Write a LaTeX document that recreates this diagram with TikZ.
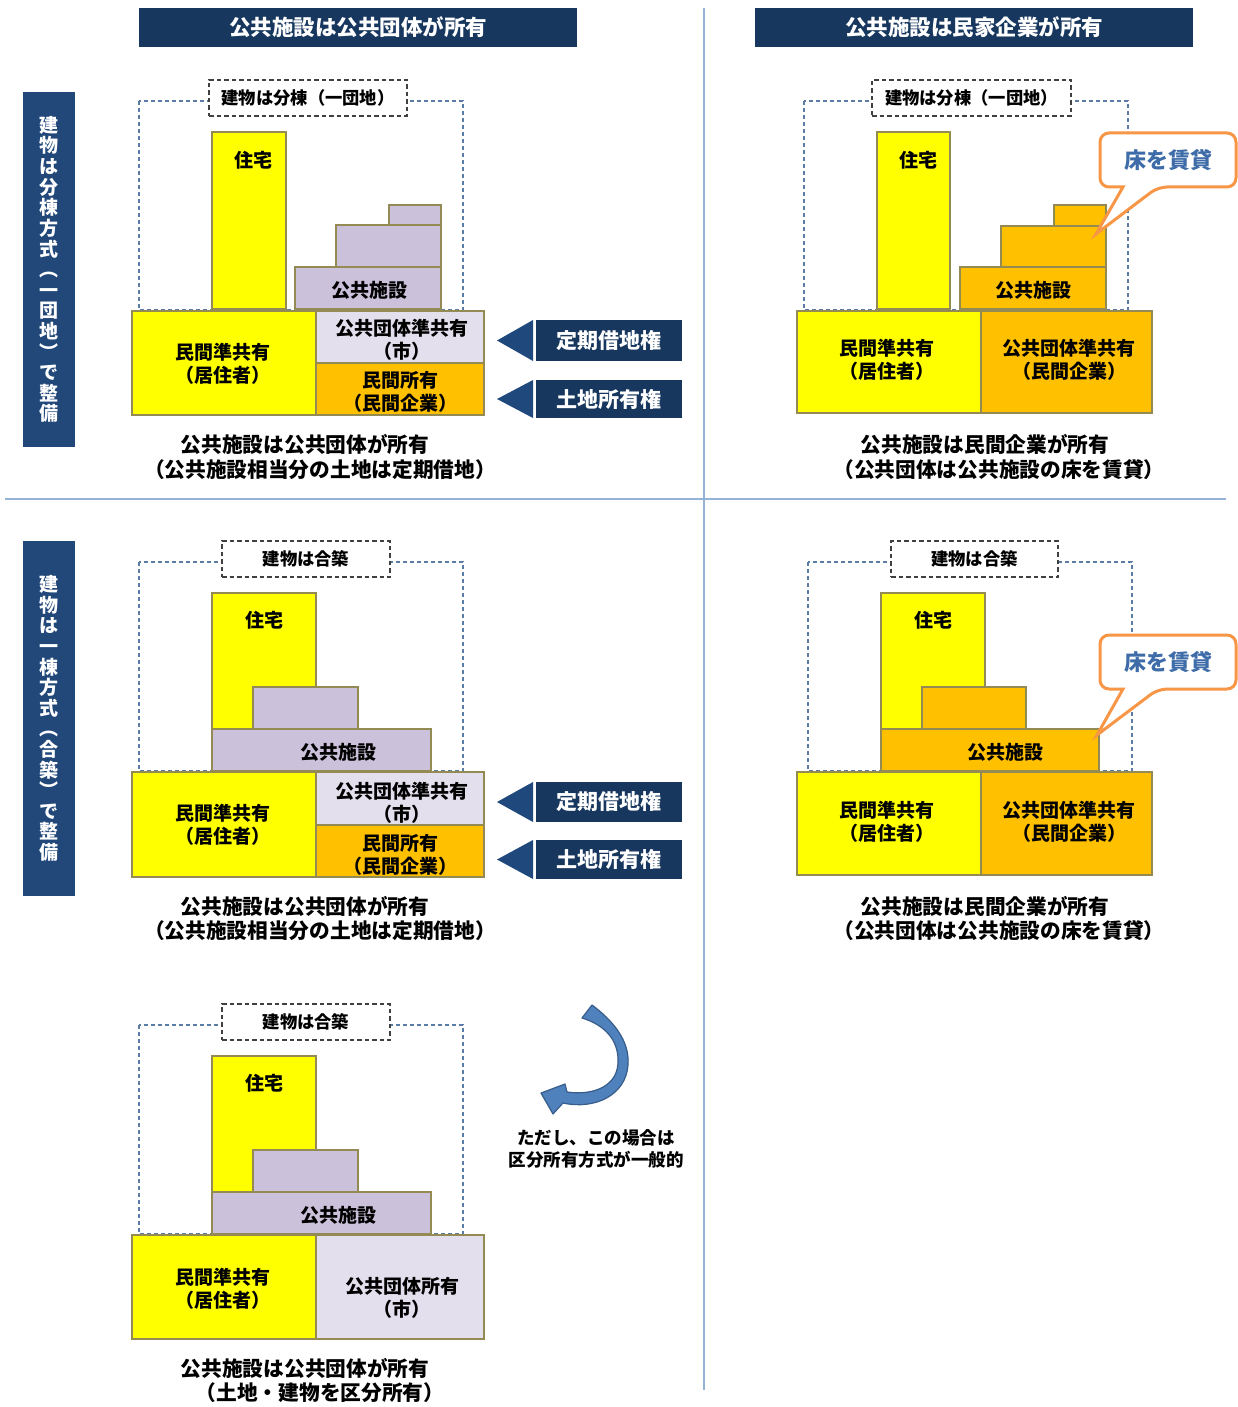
\documentclass[tikz,border=0pt]{standalone}
\usepackage{fontspec}
\setmainfont{Noto Sans CJK JP}
\definecolor{navy}{HTML}{17375E}
\definecolor{navyB}{HTML}{1F497D}
\definecolor{vlab}{HTML}{22487A}
\definecolor{yel}{HTML}{FFFF00}
\definecolor{olive}{HTML}{948A54}
\definecolor{lav}{HTML}{CCC1DA}
\definecolor{lavL}{HTML}{E4DFEC}
\definecolor{orng}{HTML}{FFC000}
\definecolor{dashc}{HTML}{5A7CA6}
\definecolor{divc}{HTML}{95B3D7}
\definecolor{callc}{HTML}{F79646}
\definecolor{calltxt}{HTML}{3E6CA8}
\definecolor{arrF}{HTML}{4F81BD}
\definecolor{arrD}{HTML}{385D8A}
\tikzset{
 blk/.style={draw=olive, line width=2.2pt},
 yb/.style={blk, fill=yel},
 lb/.style={blk, fill=lav},
 llb/.style={blk, fill=lavL},
 ob/.style={blk, fill=orng},
 txt/.style={font=\bfseries\fontsize{19}{23.5}\selectfont, align=center, inner sep=0pt},
 captxt/.style={font=\bfseries\fontsize{20.7}{22}\selectfont, inner sep=0pt},
 hdr/.style={fill=navy, text=white, font=\bfseries\fontsize{21.5}{24}\selectfont},
 vbox/.style={fill=vlab, text=white, font=\bfseries\fontsize{19}{20.6}\selectfont, align=center},
 tagbox/.style={fill=navy, text=white, font=\bfseries\fontsize{21}{24}\selectfont},
 trifill/.style={fill=navyB},
 outl/.style={draw=dashc, line width=1.3pt, dash pattern=on 4pt off 3pt},
 lblbox/.style={draw=black!75, line width=1.5pt, dash pattern=on 4.5pt off 3pt, fill=white, font=\bfseries\fontsize{17.3}{20}\selectfont},
 calltext/.style={font=\bfseries\fontsize{22}{24}\selectfont, text=calltxt, inner sep=0pt},
 callout/.style={draw=callc, line width=3pt, fill=white, rounded corners=9pt},
 notetxt/.style={font=\bfseries\fontsize{17.5}{20}\selectfont, inner sep=0pt},
}
\newcommand\bx[7]{\node[#6, inner sep=0pt, outer sep=0pt, minimum width={#4-#2}, minimum height={#5-#3}] (#1) at ({(#2+#4)/2},{(#3+#5)/2}) {#7};}
\begin{document}
\begin{tikzpicture}[x=1pt, y=-1pt]
\useasboundingbox (0,0) rectangle (1238,1407);
\fill[white] (0,0) rectangle (1238,1407);
% dividers
\draw[divc, line width=1.2pt] (704,8) -- (704,1390);
\draw[divc, line width=1.2pt] (5,499) -- (1226,499);
% headers
\bx{h1}{139}{8}{577}{47}{hdr}{公共施設は公共団体が所有}
\bx{h2}{755}{8}{1193}{47}{hdr}{公共施設は民家企業が所有}
% vertical labels
\bx{v1}{23}{92}{75}{447}{vbox}{建\\物\\は\\分\\棟\\方\\式\\︵\\一\\団\\地\\︶\\で\\整\\備}
\bx{v2}{23}{541}{75}{896}{vbox}{建\\物\\は\\一\\棟\\方\\式\\︵\\合\\築\\︶\\で\\整\\備}

% ---------- panel 1 ----------
\draw[outl] (139,101) -- (139,310) -- (463,310) -- (463,101) -- cycle;
\bx{l1}{209}{80}{407}{116}{lblbox}{建物は分棟（一団地）}
\bx{p1h}{212}{132}{286}{309}{yb}{}
\bx{p1f3}{389}{205}{441}{225}{lb}{}
\bx{p1f2}{336}{225}{441}{267}{lb}{}
\bx{p1f1}{295}{267}{441}{309}{lb}{}
\bx{p1a}{132}{311}{316}{415}{yb}{}
\bx{p1b}{316}{311}{484}{363}{llb}{}
\bx{p1c}{316}{363}{484}{415}{ob}{}
\node[txt] (p1ht) at (253,160) {住宅};
\node[txt] (p1ft) at (369,290) {公共施設};
\node[txt] (p1at) at (223,364) {民間準共有\\（居住者）};
\node[txt] (p1bt) at (402,340) {公共団体準共有\\（市）};
\node[txt] (p1ct) at (400,392) {民間所有\\（民間企業）};
\bx{k1}{536}{320}{682}{361}{tagbox}{定期借地権}
\bx{k2}{536}{380}{682}{418}{tagbox}{土地所有権}
\fill[trifill] ([xshift=-3pt]k1.north west) -- ([xshift=-39pt]k1.west) -- ([xshift=-3pt]k1.south west) -- cycle;
\fill[trifill] ([xshift=-3pt]k2.north west) -- ([xshift=-39pt]k2.west) -- ([xshift=-3pt]k2.south west) -- cycle;
\node[captxt] (c1a) at (305,444) {公共施設は公共団体が所有};
\node[captxt] (c1b) at (320,470) {（公共施設相当分の土地は定期借地）};

% ---------- panel 2 ----------
\draw[outl] (804,101) -- (804,310) -- (1128,310) -- (1128,101) -- cycle;
\bx{l2}{872}{80}{1071}{116}{lblbox}{建物は分棟（一団地）}
\bx{p2h}{877}{132}{950}{309}{yb}{}
\bx{p2f3}{1054}{205}{1106}{226}{ob}{}
\bx{p2f2}{1001}{226}{1106}{267}{ob}{}
\bx{p2f1}{960}{267}{1106}{309}{ob}{}
\bx{p2a}{797}{311}{981}{413}{yb}{}
\bx{p2b}{981}{311}{1152}{413}{ob}{}
\node[txt] (p2ht) at (918,160) {住宅};
\node[txt] (p2ft) at (1033,290) {公共施設};
\node[txt] (p2at) at (887,360) {民間準共有\\（居住者）};
\node[txt] (p2bt) at (1069,360) {公共団体準共有\\（民間企業）};
\draw[callout] (1123,187) -- (1100,187) -- (1100,133) -- (1236,133) -- (1236,187) -- (1158,187) [sharp corners] -- (1096,234) -- cycle;
\node[calltext] (q1) at (1168,160) {床を賃貸};
\node[captxt] (c2a) at (985,444) {公共施設は民間企業が所有};
\node[captxt] (c2b) at (999,470) {（公共団体は公共施設の床を賃貸）};

% ---------- panel 3 ----------
\draw[outl] (139,562) -- (139,771) -- (463,771) -- (463,562) -- cycle;
\bx{l3}{222}{541}{390}{577}{lblbox}{建物は合築}
\bx{p3h}{212}{593}{316}{729}{yb}{}
\bx{p3f2}{253}{687}{358}{729}{lb}{}
\bx{p3f1}{212}{729}{431}{771}{lb}{}
\bx{p3a}{132}{772}{316}{877}{yb}{}
\bx{p3b}{316}{772}{484}{825}{llb}{}
\bx{p3c}{316}{825}{484}{877}{ob}{}
\node[txt] (p3ht) at (264,620) {住宅};
\node[txt] (p3ft) at (338,752) {公共施設};
\node[txt] (p3at) at (223,825) {民間準共有\\（居住者）};
\node[txt] (p3bt) at (402,803) {公共団体準共有\\（市）};
\node[txt] (p3ct) at (400,855) {民間所有\\（民間企業）};
\bx{k3}{536}{782}{682}{822}{tagbox}{定期借地権}
\bx{k4}{536}{840}{682}{879}{tagbox}{土地所有権}
\fill[trifill] ([xshift=-3pt]k3.north west) -- ([xshift=-39pt]k3.west) -- ([xshift=-3pt]k3.south west) -- cycle;
\fill[trifill] ([xshift=-3pt]k4.north west) -- ([xshift=-39pt]k4.west) -- ([xshift=-3pt]k4.south west) -- cycle;
\node[captxt] (c3a) at (305,906) {公共施設は公共団体が所有};
\node[captxt] (c3b) at (320,931) {（公共施設相当分の土地は定期借地）};

% ---------- panel 4 ----------
\draw[outl] (808,562) -- (808,771) -- (1132,771) -- (1132,562) -- cycle;
\bx{l4}{891}{541}{1058}{577}{lblbox}{建物は合築}
\bx{p4h}{881}{593}{985}{729}{yb}{}
\bx{p4f2}{922}{687}{1026}{729}{ob}{}
\bx{p4f1}{881}{729}{1099}{771}{ob}{}
\bx{p4a}{797}{772}{981}{875}{yb}{}
\bx{p4b}{981}{772}{1152}{875}{ob}{}
\node[txt] (p4ht) at (933,620) {住宅};
\node[txt] (p4ft) at (1005,752) {公共施設};
\node[txt] (p4at) at (887,822) {民間準共有\\（居住者）};
\node[txt] (p4bt) at (1069,822) {公共団体準共有\\（民間企業）};
\draw[callout] (1123,689) -- (1100,689) -- (1100,635) -- (1236,635) -- (1236,689) -- (1158,689) [sharp corners] -- (1097,735) -- cycle;
\node[calltext] (q2) at (1168,662) {床を賃貸};
\node[captxt] (c4a) at (985,906) {公共施設は民間企業が所有};
\node[captxt] (c4b) at (999,931) {（公共団体は公共施設の床を賃貸）};

% ---------- panel 5 ----------
\draw[outl] (139,1025) -- (139,1234) -- (463,1234) -- (463,1025) -- cycle;
\bx{l5}{222}{1004}{390}{1040}{lblbox}{建物は合築}
\bx{p5h}{212}{1056}{316}{1192}{yb}{}
\bx{p5f2}{253}{1150}{358}{1192}{lb}{}
\bx{p5f1}{212}{1192}{431}{1234}{lb}{}
\bx{p5a}{132}{1235}{316}{1339}{yb}{}
\bx{p5b}{316}{1235}{484}{1339}{llb}{}
\node[txt] (p5ht) at (264,1083) {住宅};
\node[txt] (p5ft) at (338,1215) {公共施設};
\node[txt] (p5at) at (223,1289) {民間準共有\\（居住者）};
\node[txt] (p5bt) at (402,1298) {公共団体所有\\（市）};
\node[captxt] (c5a) at (305,1368) {公共施設は公共団体が所有};
\node[captxt] (c5b) at (320,1393) {（土地・建物を区分所有）};

% curved arrow
\draw[arrD, fill=arrF, line width=1.2pt, line join=round]
 (592,1005) .. controls (612,1020) and (630,1040) .. (628,1065)
 .. controls (626,1095) and (595,1110) .. (563,1103)
 -- (553,1114) -- (541,1093) -- (565,1084) -- (567,1092)
 .. controls (595,1096) and (619,1085) .. (618,1060)
 .. controls (618,1040) and (605,1025) .. (582,1018) -- cycle;
\node[notetxt] (n1) at (596,1138) {ただし、この場合は};
\node[notetxt] (n2) at (596,1160) {区分所有方式が一般的};
\end{tikzpicture}
\end{document}
